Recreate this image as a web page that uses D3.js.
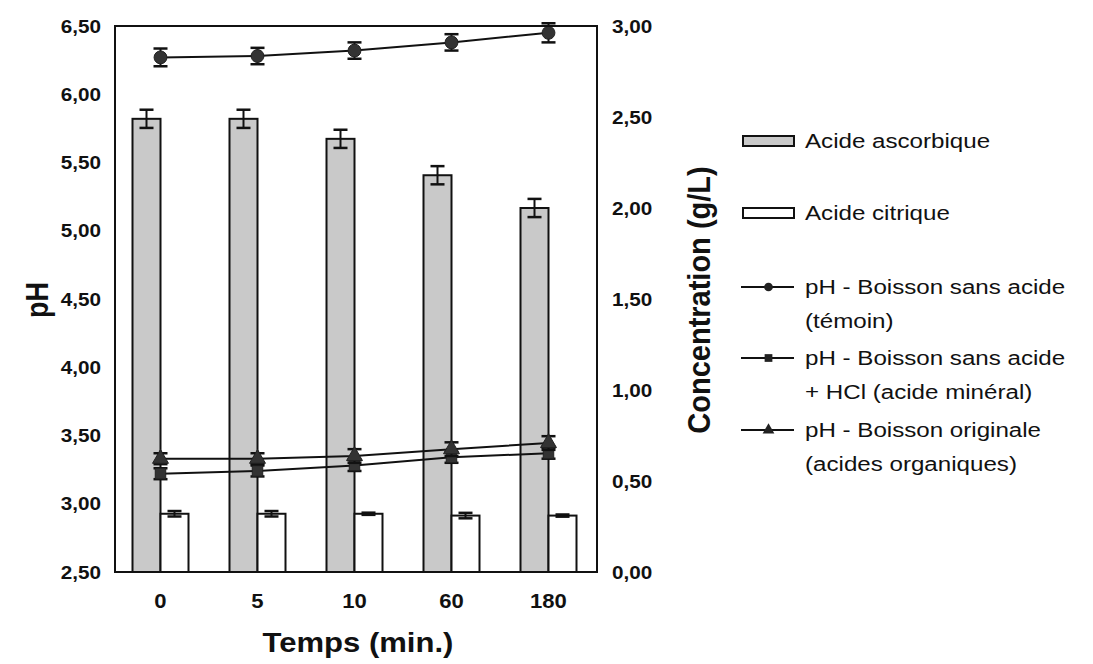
<!DOCTYPE html>
<html>
<head>
<meta charset="utf-8">
<script src="https://cdn.jsdelivr.net/npm/d3@7/dist/d3.min.js"></script>
<style>
  html, body { margin: 0; padding: 0; background: #fff; }
  svg { display: block; }
  text { font-family: "Liberation Sans", Arial, sans-serif; fill: #111; }
</style>
</head>
<body>
<svg id="chart" width="1093" height="664"></svg>
<script>
// ---------- data ----------
const categories = ["0", "5", "10", "60", "180"];
const ascorbic = [2.49, 2.49, 2.38, 2.18, 2.00];
const ascorbicErr = [0.05, 0.05, 0.05, 0.05, 0.05];
const citric = [0.32, 0.32, 0.32, 0.31, 0.31];
const citricErr = [0.015, 0.015, 0.006, 0.015, 0.006];
const phControl = [6.27, 6.28, 6.32, 6.38, 6.45];
const phControlErr = [0.065, 0.06, 0.06, 0.06, 0.07];
const phHCl = [3.22, 3.24, 3.28, 3.34, 3.37];
const phHClErr = [0.04, 0.04, 0.04, 0.04, 0.04];
const phOrganic = [3.33, 3.33, 3.35, 3.40, 3.445];
const phOrganicErr = [0.04, 0.04, 0.05, 0.05, 0.05];
const phTicks = [2.5, 3.0, 3.5, 4.0, 4.5, 5.0, 5.5, 6.0, 6.5];
const concTicks = [0, 0.5, 1.0, 1.5, 2.0, 2.5, 3.0];
const legendLabels = [
  ["Acide ascorbique"],
  ["Acide citrique"],
  ["pH - Boisson sans acide", "(témoin)"],
  ["pH - Boisson sans acide", "+ HCl (acide minéral)"],
  ["pH - Boisson originale", "(acides organiques)"]
];

// ---------- layout ----------
const svg = d3.select("#chart");
const L = 115, R = 597, T = 26, B = 572;
const SX = 1.15; // horizontal stretch of the original typography
const fmt = v => v.toFixed(2).replace(".", ",");

const x = d3.scaleBand().domain(categories).range([112, 597]);
const yPH = d3.scaleLinear().domain([2.5, 6.5]).range([B, T]);
const yC = d3.scaleLinear().domain([0, 3]).range([B, T]);
const barW = 28;
const cx = c => x(c) + x.bandwidth() / 2;

function stext(parent, tx, ty, str, opts) {
  const g = parent.append("g").attr("transform",
    `translate(${tx},${ty}) scale(${opts.sx || SX},1)` + (opts.rot ? ` rotate(${opts.rot})` : ""));
  return g.append("text")
    .attr("text-anchor", opts.anchor || "start")
    .attr("font-size", opts.size)
    .attr("font-weight", opts.weight || "normal")
    .text(str);
}

// ---------- bars ----------
const barG = svg.append("g");
barG.selectAll("rect.asc").data(categories).enter().append("rect")
  .attr("x", d => cx(d) - barW)
  .attr("y", (d, i) => yC(ascorbic[i]))
  .attr("width", barW)
  .attr("height", (d, i) => yC(0) - yC(ascorbic[i]))
  .attr("fill", "#c9c9c9").attr("stroke", "#111").attr("stroke-width", 2);
barG.selectAll("rect.cit").data(categories).enter().append("rect")
  .attr("x", d => cx(d))
  .attr("y", (d, i) => yC(citric[i]))
  .attr("width", barW)
  .attr("height", (d, i) => yC(0) - yC(citric[i]))
  .attr("fill", "#fff").attr("stroke", "#111").attr("stroke-width", 2);

function errorBars(g, xs, vals, errs, scale, capW) {
  categories.forEach((c, i) => {
    const xx = xs(c);
    const y1 = scale(vals[i] + errs[i]), y2 = scale(vals[i] - errs[i]);
    g.append("line").attr("x1", xx).attr("x2", xx).attr("y1", y1).attr("y2", y2)
      .attr("stroke", "#111").attr("stroke-width", 2);
    [y1, y2].forEach(yy => g.append("line")
      .attr("x1", xx - capW / 2).attr("x2", xx + capW / 2).attr("y1", yy).attr("y2", yy)
      .attr("stroke", "#111").attr("stroke-width", 2.5));
  });
}
errorBars(barG, c => cx(c) - barW / 2, ascorbic, ascorbicErr, yC, 14);
errorBars(barG, c => cx(c) + barW / 2, citric, citricErr, yC, 14);

// ---------- pH lines ----------
const lineG = svg.append("g");
const series = [
  { vals: phHCl, errs: phHClErr, shape: "square" },
  { vals: phOrganic, errs: phOrganicErr, shape: "triangle" },
  { vals: phControl, errs: phControlErr, shape: "circle" }
];
const line = d3.line().x(d => cx(d.c)).y(d => yPH(d.v));
series.forEach(s => {
  const pts = categories.map((c, i) => ({ c, v: s.vals[i] }));
  lineG.append("path").datum(pts).attr("d", line)
    .attr("fill", "none").attr("stroke", "#111").attr("stroke-width", 2);
  errorBars(lineG, cx, s.vals, s.errs, yPH, 14);
  const sym = s.shape === "circle" ? d3.symbolCircle : s.shape === "square" ? d3.symbolSquare : d3.symbolTriangle;
  const size = s.shape === "circle" ? 130 : 110;
  lineG.selectAll(null).data(pts).enter().append("path")
    .attr("d", d3.symbol().type(sym).size(size))
    .attr("transform", d => `translate(${cx(d.c)},${yPH(d.v)})`)
    .attr("fill", "#333").attr("stroke", "#222").attr("stroke-width", 1);
});

// ---------- frame ----------
svg.append("rect").attr("x", L).attr("y", T).attr("width", R - L).attr("height", B - T)
  .attr("fill", "none").attr("stroke", "#111").attr("stroke-width", 2);

// ---------- axes (labels only, no tick marks) ----------
const leftAxis = d3.axisLeft(yPH).tickValues(phTicks).tickFormat(fmt).tickSize(0);
const rightAxis = d3.axisRight(yC).tickValues(concTicks).tickFormat(fmt).tickSize(0);
const bottomAxis = d3.axisBottom(x).tickSize(0);
const axL = svg.append("g").attr("transform", `translate(${L},0)`).call(leftAxis);
const axR = svg.append("g").attr("transform", `translate(${R},0)`).call(rightAxis);
const axB = svg.append("g").attr("transform", `translate(0,${B})`).call(bottomAxis);
[axL, axR, axB].forEach(a => a.select(".domain").remove());
axL.selectAll(".tick text").remove();
axR.selectAll(".tick text").remove();
axB.selectAll(".tick text").remove();
axL.selectAll(".tick").each(function (d) {
  stext(d3.select(this), -14, 6, fmt(d), { size: 18, weight: "bold", anchor: "end" });
});
axR.selectAll(".tick").each(function (d) {
  stext(d3.select(this), 15, 6, fmt(d), { size: 18, weight: "bold", anchor: "start" });
});
axB.selectAll(".tick").each(function (d) {
  stext(d3.select(this), 0, 36, d, { size: 21, weight: "bold", anchor: "middle", sx: 1.05 });
});

// ---------- axis titles ----------
stext(svg, 358, 652, "Temps (min.)", { size: 27, weight: "bold", anchor: "middle" });
stext(svg, 48, 300, "pH", { size: 27, weight: "bold", anchor: "middle", rot: -90 });
stext(svg, 710, 300, "Concentration (g/L)", { size: 29, weight: "bold", anchor: "middle", rot: -90, sx: 1.05 });

// ---------- legend ----------
const lg = svg.append("g");
const swX = 743, swW = 51, txX = 805;
const rowY = [141, 213, 287, 358, 430];
const lineSpace = 34;
lg.append("rect").attr("x", swX).attr("y", rowY[0] - 5).attr("width", swW).attr("height", 10)
  .attr("fill", "#c9c9c9").attr("stroke", "#111").attr("stroke-width", 2);
lg.append("rect").attr("x", swX).attr("y", rowY[1] - 5).attr("width", swW).attr("height", 10)
  .attr("fill", "#fff").attr("stroke", "#111").attr("stroke-width", 2);
const legSym = [d3.symbolCircle, d3.symbolSquare, d3.symbolTriangle];
[2, 3, 4].forEach((r, k) => {
  lg.append("line").attr("x1", swX - 2).attr("x2", swX + swW).attr("y1", rowY[r]).attr("y2", rowY[r])
    .attr("stroke", "#111").attr("stroke-width", 2);
  lg.append("path").attr("d", d3.symbol().type(legSym[k]).size(60))
    .attr("transform", `translate(${swX + swW / 2},${rowY[r]})`).attr("fill", "#222");
});
legendLabels.forEach((lines, r) => {
  lines.forEach((t, j) => {
    stext(lg, txX, rowY[r] + 7 + j * lineSpace, t, { size: 21, anchor: "start" });
  });
});
</script>
</body>
</html>
